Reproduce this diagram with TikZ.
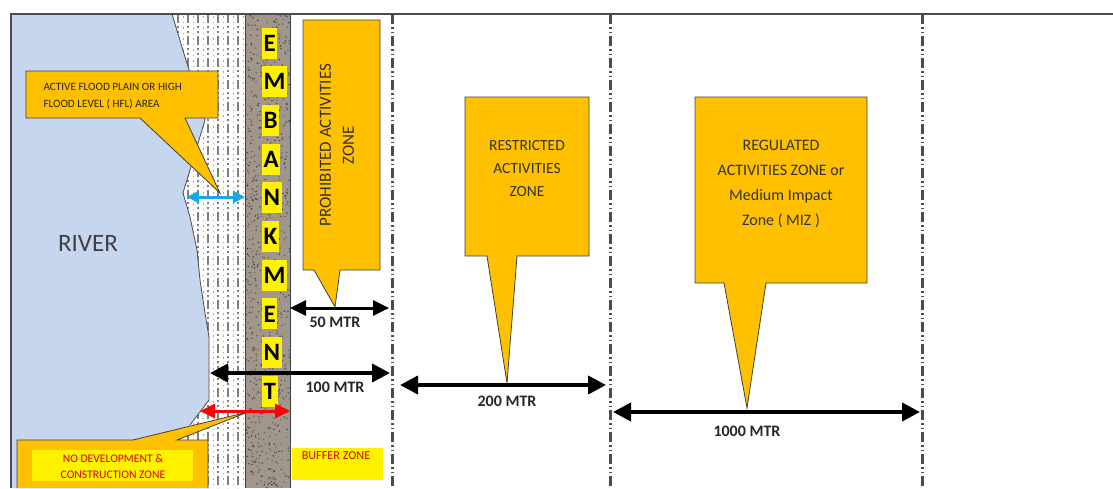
\documentclass[tikz,border=0pt]{standalone}
\usepackage{fontspec}
\setmainfont{Carlito}
\usetikzlibrary{arrows.meta}
\definecolor{riverblue}{RGB}{198,214,238}
\definecolor{callout}{RGB}{255,192,0}
\definecolor{bankgray}{RGB}{160,150,140}
\definecolor{flowblue}{RGB}{20,170,230}

\begin{document}
\begin{tikzpicture}[x=1pt, y=-1pt,
  co/.style={fill=callout, draw=black!75, line width=0.8pt, line join=miter},
  cotext/.style={font=\fontsize{15.5}{23}\selectfont, text=black!80, align=center},
  letter/.style={fill=yellow, font=\fontsize{25}{25}\selectfont\bfseries,
                 inner xsep=1.5pt, inner ysep=0pt, minimum height=31pt, anchor=west},
  dim/.style={{Triangle[length=18pt,width=18pt]}-{Triangle[length=18pt,width=18pt]},
              line width=4pt},
  dimlabel/.style={font=\fontsize{16}{16}\selectfont\bfseries, text=black!85},
  bound/.style={draw=black!70, line width=3pt,
                dash pattern=on 10pt off 3pt on 1.5pt off 3pt on 1.5pt off 3pt},
  fp/.style={draw=black!50, line width=2.2pt,
             dash pattern=on 9pt off 3pt on 2pt off 3pt on 2pt off 3pt}
]
\useasboundingbox (0,0) rectangle (1113,488);
% ── River ─────────────────────────────
\fill[riverblue] (11,14) -- (172,14) -- (185,57) -- (205,120) -- (190,170)
  -- (183,193) -- (190,217) -- (197,250) -- (200,280) -- (205,313) -- (209,337)
  -- (209,400) -- (203,408) -- (190,425) -- (175,445) -- (170,488) -- (11,488) -- cycle;
% ── Flood plain ───────────────────────
\begin{scope}
  \clip (172,14) -- (185,57) -- (205,120) -- (190,170) -- (183,193) -- (190,217)
    -- (197,250) -- (200,280) -- (205,313) -- (209,337) -- (209,400) -- (203,408)
    -- (190,425) -- (175,445) -- (170,488) -- (245,488) -- (245,14) -- cycle;
  \foreach \x in {178,188,...,238}
    \draw[fp] (\x,14) -- (\x,488);
  \foreach \x in {183,193,...,243}
    \draw[black!35, line width=1pt, dash pattern=on 1.5pt off 4pt] (\x,16) -- (\x,488);
\end{scope}
\draw[black!70, line width=0.8pt] (172,14) -- (185,57) -- (205,120) -- (190,170)
  -- (183,193) -- (190,217) -- (197,250) -- (200,280) -- (205,313) -- (209,337)
  -- (209,400) -- (203,408) -- (190,425);
% ── Embankment ────────────────────────
\begin{scope}
  \clip (245,14) rectangle (290,488);
  \fill[bankgray] (245,14) rectangle (290,488);
  \pgfmathsetseed{7}
  \foreach \i in {1,...,900}{
    \pgfmathsetmacro\px{245+45*rnd}
    \pgfmathsetmacro\py{14+474*rnd}
    \pgfmathtruncatemacro\sh{25+40*rnd}
    \fill[black!\sh!bankgray] (\px,\py) circle (0.8pt);
  }
\end{scope}
\draw[black!75, line width=0.8pt] (245,14) -- (245,488) (290,14) -- (290,488);
% ── Zone boundaries ───────────────────
\foreach \x in {392,610,922}
  \draw[bound] (\x,14) -- (\x,488);
\draw[black!70, line width=1.2pt] (11,488) -- (11,14) -- (1113,14);
% ── Callouts ──────────────────────────
\draw[co] (26,71) -- (218,71) -- (218,118) -- (185,118) -- (220,193) -- (140,118)
  -- (26,118) -- cycle;
\draw[co] (17,488) -- (17,440) -- (133,440) -- (248,412) -- (177,440) -- (208,440)
  -- (208,488);
\fill[yellow] (32,450) rectangle (193,481);
\draw[co] (303,20) -- (380,20) -- (380,270) -- (340,270) -- (335,307) -- (314,270)
  -- (303,270) -- cycle;
\draw[co] (465,97) -- (589,97) -- (589,256) -- (517,256) -- (507,383) -- (487,256)
  -- (465,256) -- cycle;
\draw[co] (695,97) -- (867,97) -- (867,283) -- (766,283) -- (747,408) -- (724,283)
  -- (695,283) -- cycle;
\fill[yellow] (292,448) rectangle (383,480);
% ── Embankment letters ────────────────
\foreach \l [count=\i] in {E,M,B,A,N,K,M,E,N,T}
  \node[letter] (emb\i) at (262,{43+38.7*(\i-1)}) {\l};
% ── Texts ─────────────────────────────
\node[font=\fontsize{25}{25}\selectfont, text=black!75] (river) at (88,243) {RIVER};
\node[font=\fontsize{11.2}{17}\selectfont, text=black!85, align=left, anchor=west]
  (flood) at (40,96) {ACTIVE FLOOD PLAIN OR HIGH\\FLOOD LEVEL ( HFL) AREA};
\node[font=\fontsize{11.6}{16}\selectfont, text=red!85!black, align=center]
  (nodev) at (113,467) {NO DEVELOPMENT \&\\CONSTRUCTION ZONE};
\node[font=\fontsize{12.2}{12}\selectfont, text=red!85!black] (buffer) at (336,456) {BUFFER ZONE};
\node[cotext, font=\fontsize{17}{23}\selectfont, rotate=90] (prohib) at (337,145)
  {PROHIBITED ACTIVITIES\\ZONE};
\node[cotext] (restr) at (527,169) {RESTRICTED\\ACTIVITIES\\ZONE};
\node[cotext, font=\fontsize{16}{25}\selectfont] (regul) at (781,184)
  {REGULATED\\ACTIVITIES ZONE or\\Medium Impact\\Zone ( MIZ )};
% ── Arrows ────────────────────────────
\coordinate (b1) at (187,197);  \coordinate (b2) at (245,197);
\coordinate (r1) at (200,411);  \coordinate (r2) at (290,411);
\coordinate (d1) at (290,308);  \coordinate (d2) at (389,308);
\coordinate (h1) at (210,373);  \coordinate (h2) at (390,373);
\coordinate (t1) at (400,385);  \coordinate (t2) at (606,385);
\coordinate (k1) at (613,412);  \coordinate (k2) at (920,412);
\draw[{Triangle[length=12pt,width=12pt]}-{Triangle[length=12pt,width=12pt]},
  flowblue, line width=3pt] (b1) -- (b2);
\draw[{Triangle[length=15pt,width=14pt]}-{Triangle[length=15pt,width=14pt]},
  red, line width=3pt] (r1) -- (r2);
\draw[dim, {Triangle[length=16pt,width=15pt]}-{Triangle[length=16pt,width=15pt]},
  line width=3pt] (d1) -- (d2);
\draw[dim] (h1) -- (h2);
\draw[dim] (t1) -- (t2);
\draw[dim] (k1) -- (k2);
\node[dimlabel] (l50) at (335,322) {50 MTR};
\node[dimlabel] (l100) at (335,387) {100 MTR};
\node[dimlabel] (l200) at (507,401) {200 MTR};
\node[dimlabel] (l1000) at (747,431) {1000 MTR};
\end{tikzpicture}
\end{document}
